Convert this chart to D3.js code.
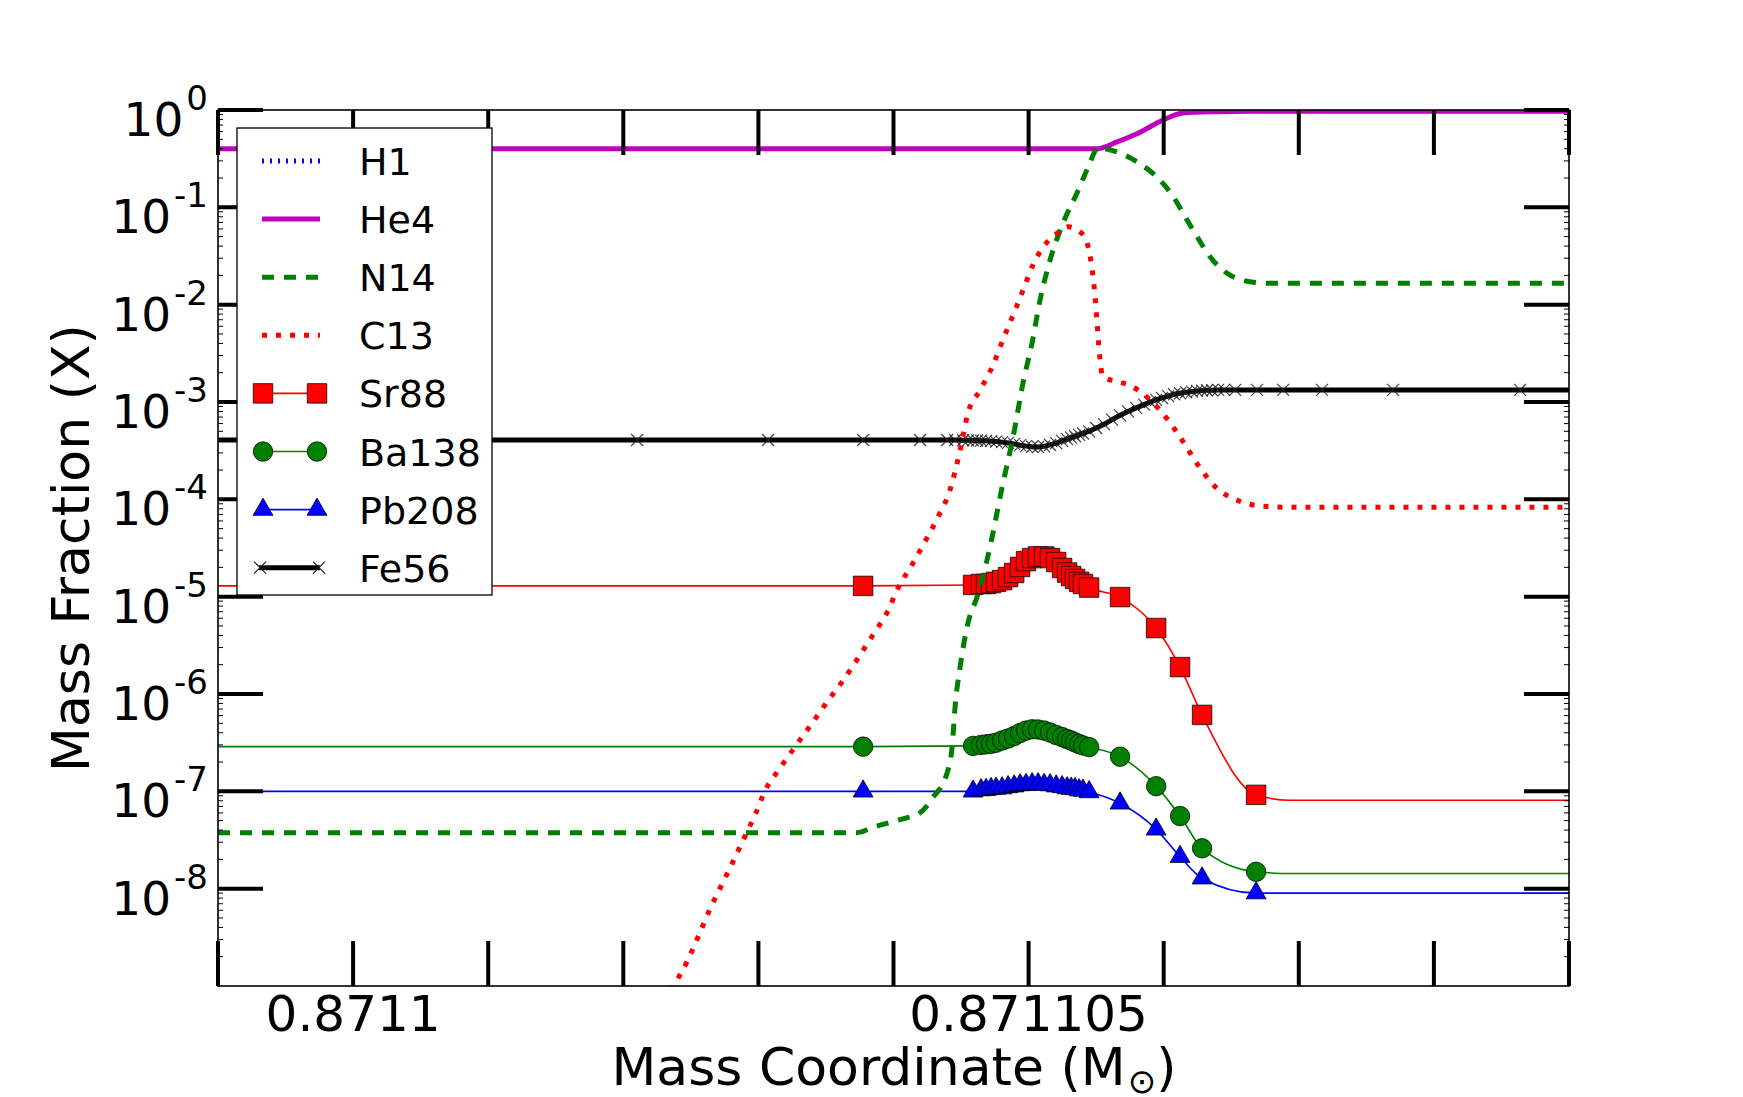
<!DOCTYPE html>
<html><head><meta charset="utf-8">
<script src="https://cdn.jsdelivr.net/npm/d3@7/dist/d3.min.js"></script>
<style>body{margin:0;background:#fff}svg{display:block}text{font-family:"DejaVu Sans",sans-serif;fill:#000}</style>
</head><body><svg id="c" width="1743" height="1097"></svg>
<script>
// ---------------- data ----------------
const xDomain = [0.871099, 0.871109];
const yDomain = [1e-9, 1];
const xTickValues = [0.871099,0.8711,0.871101,0.871102,0.871103,0.871104,0.871105,0.871106,0.871107,0.871108,0.871109];
const xLabelValues = [0.8711, 0.871105];
const xLabelTexts = ["0.8711", "0.871105"];
const yTickExponents = [0,-1,-2,-3,-4,-5,-6,-7,-8];

const legendNames = ["H1","He4","N14","C13","Sr88","Ba138","Pb208","Fe56"];

// H1 lies below the plotted range (legend only)
const h1Mass = [];
const h1Vals = [];

const he4Mass = [0.871099,0.871105507,0.871105655,0.871105803,0.871105996,0.871106144,0.871106395,0.87110664,0.871109];
const he4Vals = [0.4,0.4,0.47,0.57,0.79,0.93,0.96,0.97,0.97];

const n14Mass = [0.871099,0.871103731,0.871103849,0.871104049,0.871104197,0.871104293,0.871104397,0.871104434,0.871104456,0.871104493,0.871104552,0.871104619,0.871104693,0.871104811,0.871104885,0.871104959,0.871105026,0.871105085,0.871105159,0.871105255,0.871105359,0.87110544,0.871105514,0.871105655,0.871105825,0.871105973,0.87110607,0.871106173,0.871106247,0.871106343,0.871106469,0.871106617,0.871106788,0.871109];
const n14Vals = [3.76e-8,3.76e-8,4.27e-8,5.13e-8,6.03e-8,8.7e-8,1.55e-7,2.88e-7,7.4e-7,1.9e-6,5.4e-6,1.0e-5,2.4e-5,1.48e-4,4.37e-4,1.58e-3,4.07e-3,1.12e-2,2.88e-2,6.9e-2,0.141,0.257,0.407,0.37,0.28,0.19,0.129,0.074,0.050,0.031,0.021,0.0174,0.0166,0.0166];

const c13Mass = [0.871102198,0.871102369,0.871102472,0.871102554,0.871102628,0.871102717,0.871102806,0.871102887,0.871102976,0.87110305,0.871103161,0.871103272,0.871103397,0.871103509,0.871103627,0.871103738,0.871103849,0.871103953,0.871104034,0.871104138,0.871104234,0.87110433,0.871104419,0.871104493,0.871104552,0.871104641,0.871104737,0.871104811,0.871104885,0.871104959,0.871105033,0.871105137,0.871105218,0.871105292,0.871105381,0.871105433,0.87110547,0.871105492,0.871105507,0.871105522,0.871105551,0.871105655,0.871105751,0.871105899,0.871106033,0.871106144,0.871106255,0.87110638,0.871106543,0.871106736,0.871106936,0.871109];
const c13Vals = [3.8e-10,9.8e-10,1.78e-9,3.2e-9,5.6e-9,1.02e-8,1.82e-8,3.16e-8,5.75e-8,1.02e-7,1.74e-7,2.88e-7,5.0e-7,8.3e-7,1.38e-6,2.34e-6,4.07e-6,6.9e-6,1.23e-5,2.14e-5,3.7e-5,6.6e-5,1.26e-4,3.2e-4,7.8e-4,1.32e-3,2.4e-3,4.4e-3,7.8e-3,1.41e-2,2.57e-2,4.4e-2,5.5e-2,6.3e-2,5.6e-2,4.3e-2,2.3e-2,1.2e-2,6.5e-3,3.4e-3,1.82e-3,1.62e-3,1.48e-3,1.05e-3,6.5e-4,3.9e-4,2.24e-4,1.35e-4,9.8e-5,8.5e-5,8.3e-5,8.3e-5];

// shared zone grid of the s-process markers
const sMass = [0.871103775,0.871104589,0.871104648,0.871104685,0.871104722,0.871104759,0.871104804,0.871104848,0.871104893,0.871104937,0.871104981,0.871105026,0.87110507,0.871105115,0.871105159,0.871105204,0.871105248,0.871105285,0.871105315,0.871105344,0.871105374,0.871105403,0.871105448,0.871105677,0.871105944,0.871106121,0.871106284,0.871106684];
const sr88Vals = [1.29e-5,1.32e-5,1.35e-5,1.35e-5,1.38e-5,1.42e-5,1.48e-5,1.59e-5,1.75e-5,2.02e-5,2.32e-5,2.49e-5,2.59e-5,2.59e-5,2.49e-5,2.27e-5,1.97e-5,1.77e-5,1.63e-5,1.52e-5,1.42e-5,1.35e-5,1.24e-5,9.9e-6,4.76e-6,1.89e-6,6.1e-7,9.2e-8];
const ba138Vals = [2.88e-7,2.93e-7,3.0e-7,3.04e-7,3.08e-7,3.16e-7,3.33e-7,3.49e-7,3.70e-7,3.97e-7,4.21e-7,4.34e-7,4.32e-7,4.21e-7,4.02e-7,3.79e-7,3.61e-7,3.44e-7,3.33e-7,3.18e-7,3.06e-7,2.96e-7,2.85e-7,2.27e-7,1.13e-7,5.57e-8,2.60e-8,1.49e-8];
const pb208Vals = [1.0e-7,1.0e-7,1.03e-7,1.04e-7,1.06e-7,1.07e-7,1.08e-7,1.11e-7,1.13e-7,1.16e-7,1.17e-7,1.19e-7,1.19e-7,1.17e-7,1.16e-7,1.13e-7,1.11e-7,1.08e-7,1.07e-7,1.06e-7,1.03e-7,1.02e-7,9.85e-8,7.53e-8,4.07e-8,2.13e-8,1.28e-8,9.0e-9];
// line-only points outside the marker grid: left edge, and the flat tail on the right
const sLeftMass = [0.871099];
const sTailMass = [0.871106936, 0.871109];
const sr88Left = [1.29e-5], sr88Tail = [8.1e-8, 8.1e-8];
const ba138Left = [2.88e-7], ba138Tail = [1.43e-8, 1.43e-8];
const pb208Left = [1.0e-7], pb208Tail = [9.0e-9, 9.0e-9];

const fe56Mass = [0.871099,0.871102102,0.871103072,0.871103775,0.871104197,0.871104397,0.871104456,0.871104515,0.871104552,0.871104589,0.871104619,0.871104648,0.871104685,0.871104722,0.871104759,0.871104804,0.871104848,0.871104893,0.871104937,0.871104981,0.871105026,0.87110507,0.871105115,0.871105159,0.871105204,0.871105248,0.871105285,0.871105315,0.871105344,0.871105374,0.871105403,0.871105448,0.8711055,0.871105559,0.871105618,0.871105677,0.871105736,0.871105796,0.871105855,0.871105899,0.871105944,0.871105988,0.871106033,0.871106077,0.871106121,0.871106166,0.87110621,0.871106247,0.871106284,0.871106321,0.871106358,0.871106403,0.871106447,0.871106529,0.871106691,0.871106884,0.871107172,0.871107698,0.871108638,0.871109];
const fe56Vals = [4.07e-4,4.07e-4,4.07e-4,4.07e-4,4.07e-4,4.07e-4,4.06e-4,4.05e-4,4.04e-4,4.03e-4,4.02e-4,4.01e-4,3.99e-4,3.96e-4,3.92e-4,3.87e-4,3.80e-4,3.71e-4,3.60e-4,3.52e-4,3.47e-4,3.45e-4,3.50e-4,3.62e-4,3.78e-4,3.98e-4,4.15e-4,4.30e-4,4.45e-4,4.60e-4,4.75e-4,5.0e-4,5.4e-4,5.9e-4,6.6e-4,7.3e-4,8.0e-4,8.7e-4,9.4e-4,1.0e-3,1.05e-3,1.10e-3,1.15e-3,1.20e-3,1.23e-3,1.26e-3,1.28e-3,1.30e-3,1.31e-3,1.32e-3,1.32e-3,1.33e-3,1.33e-3,1.33e-3,1.33e-3,1.33e-3,1.33e-3,1.33e-3,1.33e-3,1.33e-3];

// ---------------- drawing ----------------
const W = 1743, H = 1097;
const X0 = 218, X1 = 1569, Y0 = 110, Y1 = 986;
const svg = d3.select("#c");
svg.append("rect").attr("width", W).attr("height", H).attr("fill", "#fff");

const x = d3.scaleLinear().domain(xDomain).range([X0, X1]);
const y = d3.scaleLog().domain(yDomain).range([Y1, Y0]);

svg.append("defs").append("clipPath").attr("id", "clip")
  .append("rect").attr("x", X0).attr("y", Y0).attr("width", X1 - X0).attr("height", Y1 - Y0);
const plot = svg.append("g").attr("clip-path", "url(#clip)");

const zip = (m, v) => m.map((d, i) => [d, v[i]]);
const lineGen = d3.line().x(d => x(d[0])).y(d => y(d[1])).curve(d3.curveMonotoneX);

const COL = {r: "#ff0000", g: "#008000", b: "#0000ff", m: "#bf00bf", k: "#000000"};

function markerPath(kind, s) {
  if (kind === "s") { const h = s / 2; return `M${-h},${-h}H${h}V${h}H${-h}Z`; }
  if (kind === "o") { const r = s / 2; return `M${r},0A${r},${r} 0 1,1 ${-r},0A${r},${r} 0 1,1 ${r},0Z`; }
  if (kind === "^") { const R = s / 2; const w = R * 0.866; return `M0,${-R}L${w},${R / 2}L${-w},${R / 2}Z`; }
  if (kind === "x") { const h = s / 2; return `M${-h},${-h}L${h},${h}M${-h},${h}L${h},${-h}`; }
}

const sSeries = [
  {vals: sr88Vals, left: sr88Left, tail: sr88Tail, color: COL.r, kind: "s", size: 19.5},
  {vals: ba138Vals, left: ba138Left, tail: ba138Tail, color: COL.g, kind: "o", size: 19.5},
  {vals: pb208Vals, left: pb208Left, tail: pb208Tail, color: COL.b, kind: "^", size: 23}
];

sSeries.forEach(s => {
  const pts = zip(sLeftMass, s.left).concat(zip(sMass, s.vals), zip(sTailMass, s.tail));
  plot.append("path").attr("d", lineGen(pts)).attr("fill", "none")
    .attr("stroke", s.color).attr("stroke-width", 1.6);
});
sSeries.forEach(s => {
  plot.append("g").selectAll("path").data(zip(sMass, s.vals)).join("path")
    .attr("transform", d => `translate(${x(d[0])},${y(d[1])})`)
    .attr("d", markerPath(s.kind, s.size))
    .attr("fill", s.color).attr("stroke", "#000").attr("stroke-width", 1).attr("stroke-opacity", 0.75);
});

// Fe56
const fePts = zip(fe56Mass, fe56Vals);
plot.append("path").attr("d", d3.line().x(d => x(d[0])).y(d => y(d[1]))(fePts))
  .attr("fill", "none").attr("stroke", COL.k).attr("stroke-width", 5);
plot.append("g").selectAll("path").data(fePts.slice(1, -1)).join("path")
  .attr("transform", d => `translate(${x(d[0])},${y(d[1])})`)
  .attr("d", markerPath("x", 12)).attr("fill", "none")
  .attr("stroke", "#222").attr("stroke-width", 1.2).attr("stroke-opacity", 0.85);

// H1 (empty in range)
if (h1Mass.length) plot.append("path").attr("d", lineGen(zip(h1Mass, h1Vals))).attr("fill", "none")
  .attr("stroke", COL.b).attr("stroke-width", 5).attr("stroke-dasharray", "2,6");

plot.append("path").attr("d", lineGen(zip(he4Mass, he4Vals))).attr("fill", "none")
  .attr("stroke", COL.m).attr("stroke-width", 5);
plot.append("path").attr("d", lineGen(zip(n14Mass, n14Vals))).attr("fill", "none")
  .attr("stroke", COL.g).attr("stroke-width", 5).attr("stroke-dasharray", "12,10");
plot.append("path").attr("d", lineGen(zip(c13Mass, c13Vals))).attr("fill", "none")
  .attr("stroke", COL.r).attr("stroke-width", 5).attr("stroke-dasharray", "5,9");

// ---------------- axes ----------------
const axes = svg.append("g");
axes.append("rect").attr("x", X0).attr("y", Y0).attr("width", X1 - X0).attr("height", Y1 - Y0)
  .attr("fill", "none").attr("stroke", "#000").attr("stroke-width", 1.6);

xTickValues.forEach(t => {
  const px = x(t);
  axes.append("line").attr("x1", px).attr("x2", px).attr("y1", Y1).attr("y2", Y1 - 45)
    .attr("stroke", "#000").attr("stroke-width", 4);
  axes.append("line").attr("x1", px).attr("x2", px).attr("y1", Y0).attr("y2", Y0 + 45)
    .attr("stroke", "#000").attr("stroke-width", 4);
});
xLabelValues.forEach((t, i) => {
  axes.append("text").attr("x", x(t)).attr("y", 1031).attr("text-anchor", "middle")
    .attr("font-size", 50).text(xLabelTexts[i]);
});

for (let e = -9; e < 0; e++) {
  for (let k = 2; k <= 9; k++) {
    const py = y(k * Math.pow(10, e));
    axes.append("line").attr("x1", X0).attr("x2", X0 + 5).attr("y1", py).attr("y2", py)
      .attr("stroke", "#000").attr("stroke-width", 1);
    axes.append("line").attr("x1", X1 - 5).attr("x2", X1).attr("y1", py).attr("y2", py)
      .attr("stroke", "#000").attr("stroke-width", 1);
  }
}
yTickExponents.forEach(e => {
  const py = y(Math.pow(10, e));
  axes.append("line").attr("x1", X0).attr("x2", X0 + 45).attr("y1", py).attr("y2", py)
    .attr("stroke", "#000").attr("stroke-width", 4);
  axes.append("line").attr("x1", X1 - 45).attr("x2", X1).attr("y1", py).attr("y2", py)
    .attr("stroke", "#000").attr("stroke-width", 4);
  const t = axes.append("text").attr("x", 208).attr("y", py + 26).attr("text-anchor", "end")
    .attr("font-size", 47);
  t.append("tspan").text("10");
  t.append("tspan").attr("dx", 3).attr("dy", -26).attr("font-size", 34).text(e === 0 ? "0" : "-" + (-e));
});

axes.append("text").attr("transform", "translate(89,548) rotate(-90)").attr("text-anchor", "middle")
  .attr("font-size", 52).text("Mass Fraction (X)");
const xt = axes.append("text").attr("x", 894).attr("y", 1085).attr("text-anchor", "middle").attr("font-size", 52);
xt.append("tspan").text("Mass Coordinate (M");
xt.append("tspan").attr("font-size", 34).attr("dx", 2).attr("dy", 8).text("\u2299");
xt.append("tspan").attr("dy", -8).text(")");

// ---------------- legend ----------------
const lg = svg.append("g");
lg.append("rect").attr("x", 237).attr("y", 128).attr("width", 255).attr("height", 467)
  .attr("fill", "#fff").attr("stroke", "#000").attr("stroke-width", 1.3);
const legendStyles = [
  {color: COL.b, width: 5, dash: "2,6"},
  {color: COL.m, width: 5},
  {color: COL.g, width: 5, dash: "12,10"},
  {color: COL.r, width: 5, dash: "5,9"},
  {color: COL.r, width: 1.6, kind: "s", size: 19.5},
  {color: COL.g, width: 1.6, kind: "o", size: 19.5},
  {color: COL.b, width: 1.6, kind: "^", size: 23},
  {color: COL.k, width: 5, kind: "x", size: 12}
];
legendNames.forEach((name, i) => {
  const cy = 161 + i * 58.1;
  const st = legendStyles[i];
  const xa = st.kind ? 263 : 262, xb = st.kind ? 317 : 320;
  const ln = lg.append("line").attr("x1", st.kind === "x" ? 259 : xa).attr("x2", st.kind === "x" ? 320 : xb)
    .attr("y1", cy).attr("y2", cy).attr("stroke", st.color).attr("stroke-width", st.width);
  if (st.dash) ln.attr("stroke-dasharray", st.dash);
  if (st.kind) {
    const ends = st.kind === "x" ? [260, 319] : [xa, xb];
    ends.forEach(ex => {
      const p = lg.append("path").attr("transform", `translate(${ex},${cy})`).attr("d", markerPath(st.kind, st.size));
      if (st.kind === "x") p.attr("fill", "none").attr("stroke", "#222").attr("stroke-width", 1.2);
      else p.attr("fill", st.color).attr("stroke", "#000").attr("stroke-width", 1).attr("stroke-opacity", 0.75);
    });
  }
  lg.append("text").attr("x", 359).attr("y", cy + 14).attr("font-size", 38).text(name);
});
</script></body></html>
